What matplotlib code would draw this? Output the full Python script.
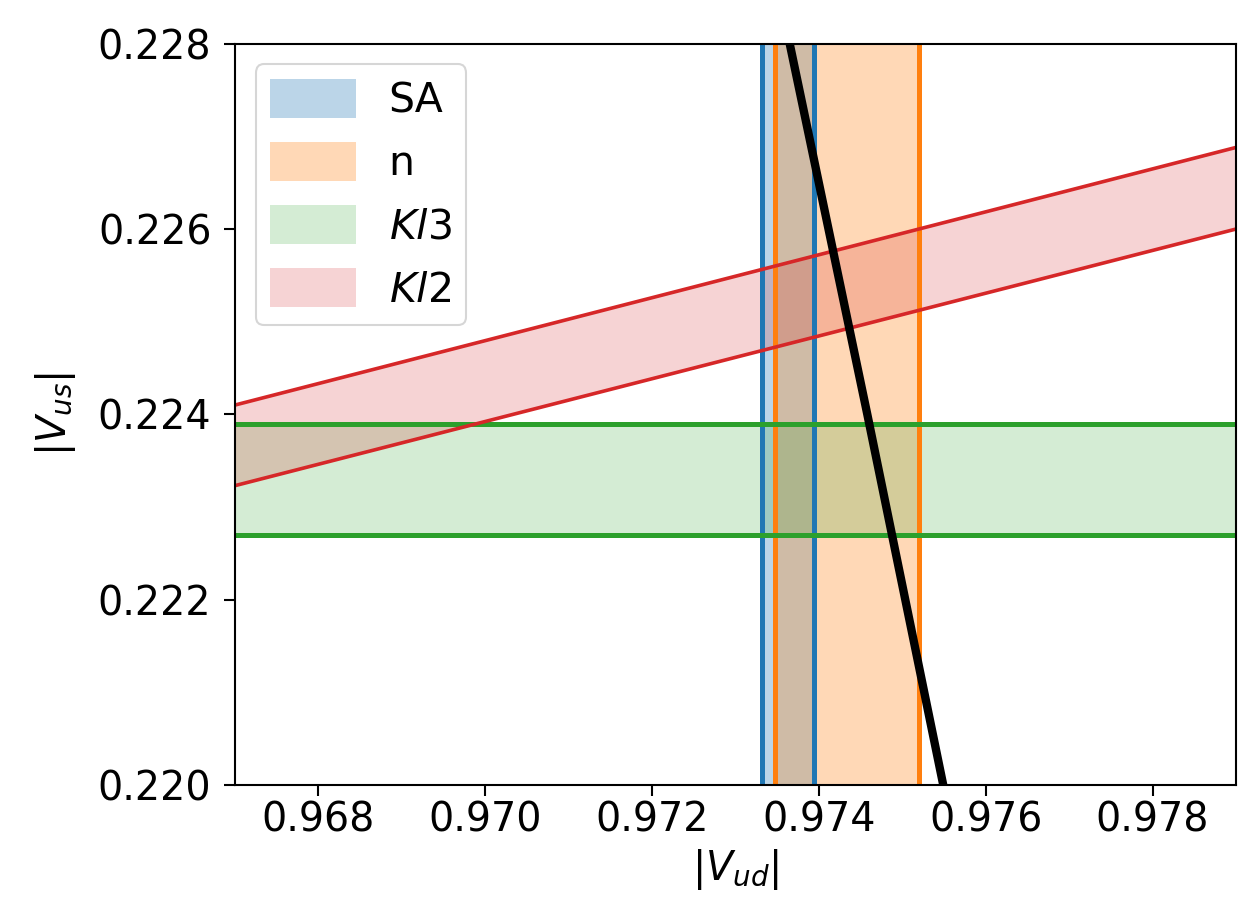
import numpy as np
import matplotlib
matplotlib.use("Agg")
import matplotlib.pyplot as plt

# bands
sa_vud = [0.97332, 0.97394]
n_vud = [0.97347, 0.97520]
kl3_vus = [0.2227, 0.2239]
kl2_ratio = [0.23085, 0.23175]   # |Vus|/|Vud| band

# unitarity line
unit_vud = [0.97365, 0.97458, 0.97549]
unit_vus = [0.2280, 0.2240, 0.2200]

xlim = (0.967, 0.979)
ylim = (0.220, 0.228)

plt.rcParams["font.size"] = 28.5

fig = plt.figure(figsize=(12.47, 9.05), dpi=100)
ax = fig.add_axes([0.1885, 0.1326, 0.8027, 0.8188])

edge_lw = 3.6

ax.axvspan(sa_vud[0], sa_vud[1], color="C0", alpha=0.3, lw=0, label="SA")
for v in sa_vud:
    ax.axvline(v, color="C0", lw=edge_lw)

ax.axvspan(n_vud[0], n_vud[1], color="C1", alpha=0.3, lw=0, label="n")
for v in n_vud:
    ax.axvline(v, color="C1", lw=edge_lw)

ax.axhspan(kl3_vus[0], kl3_vus[1], color="C2", alpha=0.2, lw=0, label="$Kl3$")
for v in kl3_vus:
    ax.axhline(v, color="C2", lw=edge_lw)

xs = np.array(xlim)
lo = kl2_ratio[0] * xs
hi = kl2_ratio[1] * xs
ax.fill_between(xs, lo, hi, color="C3", alpha=0.2, lw=0, label="$Kl2$")
ax.plot(xs, lo, color="C3", lw=2.6)
ax.plot(xs, hi, color="C3", lw=2.6)

ax.plot(unit_vud, unit_vus, color="black", lw=6)

ax.set_xlim(*xlim)
ax.set_ylim(*ylim)
ax.set_xticks(np.arange(0.968, 0.9785, 0.002))
ax.set_yticks(np.arange(0.220, 0.2285, 0.002))
ax.xaxis.set_major_formatter(matplotlib.ticker.FormatStrFormatter("%.3f"))
ax.yaxis.set_major_formatter(matplotlib.ticker.FormatStrFormatter("%.3f"))
ax.tick_params(length=8, width=1.5)
ax.tick_params(axis="y", pad=9)
for s in ax.spines.values():
    s.set_linewidth(1.5)

ax.set_xlabel("$|V_{ud}|$")
ax.set_ylabel("$|V_{us}|$", labelpad=14)

leg = ax.legend(loc="upper left", borderaxespad=0.5, handleheight=1.1,
                handlelength=2.1, labelspacing=0.5, borderpad=0.35,
                handletextpad=0.8, fontsize=29.5)
leg.get_frame().set_linewidth(1.5)

fig.savefig("out.png", dpi=100)
